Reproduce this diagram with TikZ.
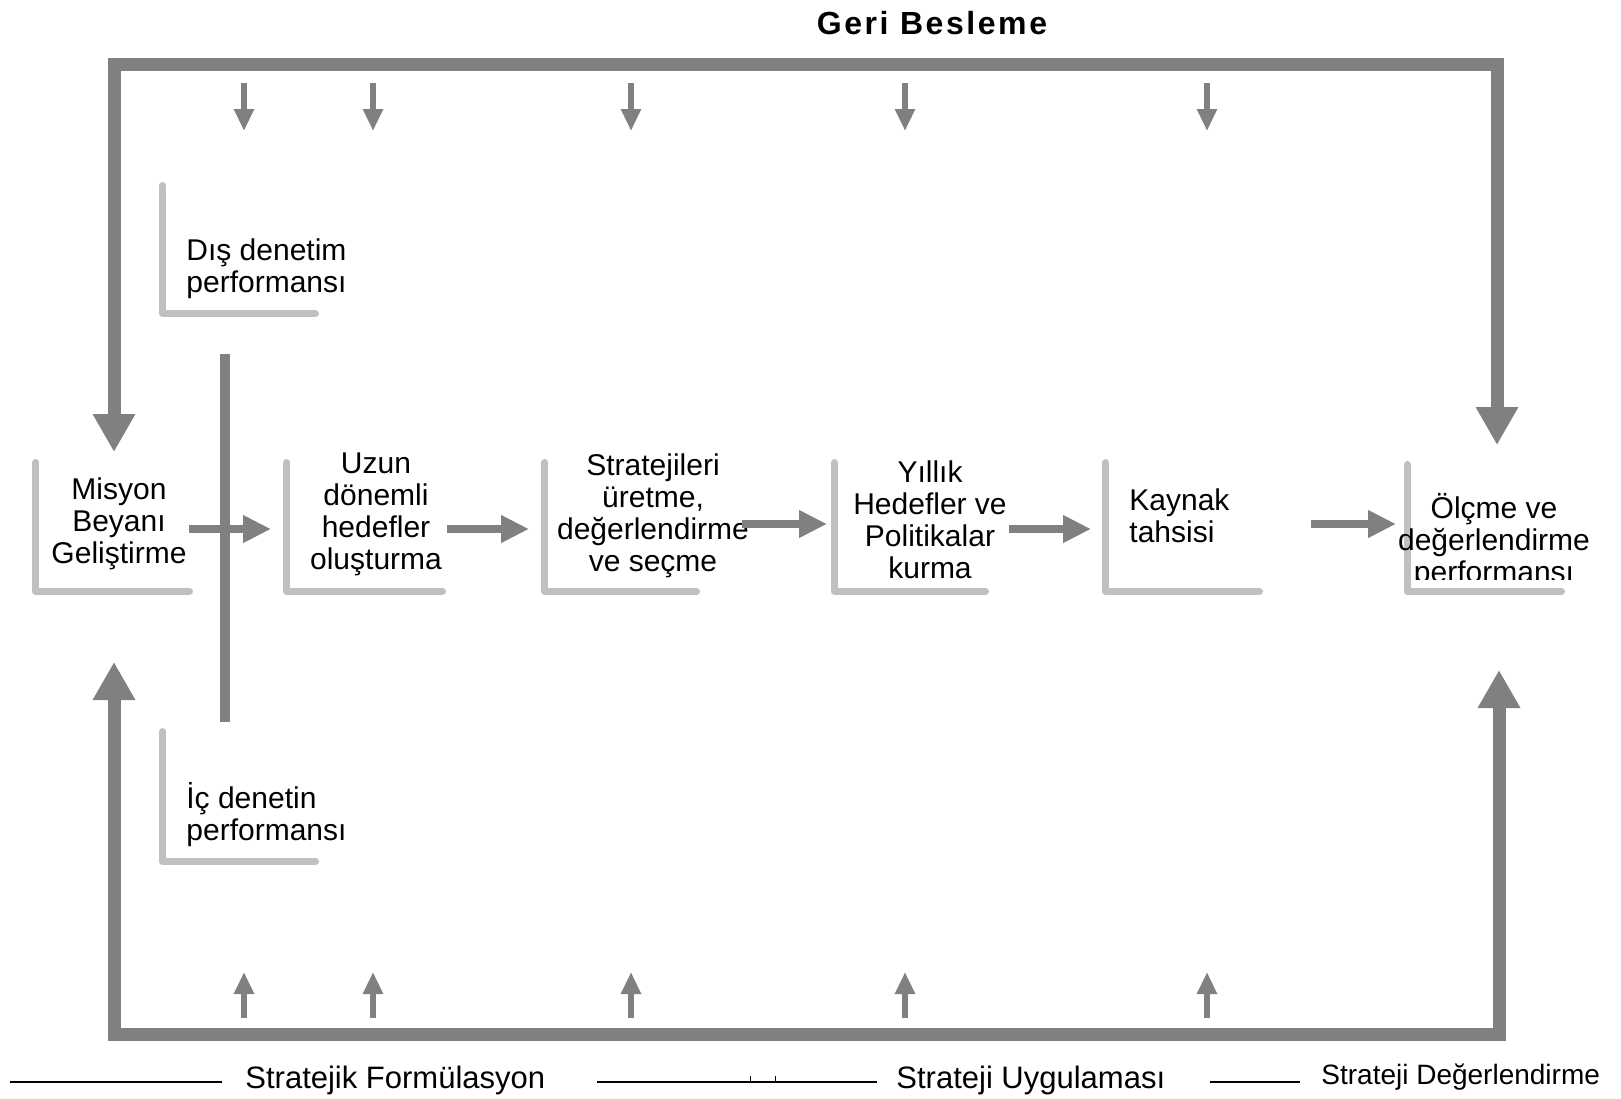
\documentclass[tikz,border=0pt]{standalone}
\usepackage{fontspec}
\setmainfont{Liberation Sans}
\usetikzlibrary{arrows.meta}
\definecolor{dk}{HTML}{808080}
\definecolor{lt}{HTML}{C0C0C0}
\tikzset{
  fb/.style={draw=dk, line width=6.5pt, line join=miter,
    {Triangle[length=19pt,width=20pt]}-{Triangle[length=19pt,width=20pt]}},
  small/.style={draw=dk, line width=3pt, -{Triangle[length=11pt,width=9.5pt]}},
  flow/.style={draw=dk, line width=4pt, -{Triangle[length=14pt,width=13pt]}},
  bracket/.style={draw=lt, line width=3.6pt, line cap=round, line join=round},
  boxn/.style={rectangle, inner sep=0pt, minimum width=#1},
  boxn/.default={76.5pt},
  txt/.style={inner sep=0pt, align=center, font=\fontsize{15}{16}\selectfont},
  txtl/.style={inner sep=0pt, align=left, anchor=west, font=\fontsize{15}{16}\selectfont},
  lbl/.style={inner sep=0pt, anchor=west, font=\fontsize{15.5}{17}\selectfont},
  rule/.style={draw=black, line width=1pt}
}
\begin{document}
\begin{tikzpicture}[x=0.5pt,y=-0.5pt]
\useasboundingbox[fill=white] (0,0) rectangle (1621,1098);

% title
\node[inner sep=0pt, font=\fontsize{16}{18}\selectfont\bfseries\addfontfeature{LetterSpace=8}] (title) at (932,23) {Geri Besleme};

% feedback loops
\coordinate (tl) at (114,64);
\coordinate (tr) at (1497,64);
\coordinate (ltip) at (114,452);
\coordinate (rtip) at (1497,445);
\draw[fb] (ltip) -- (tl) -- (tr) -- (rtip);

\coordinate (bl) at (114,1034);
\coordinate (br) at (1499,1034);
\coordinate (lutip) at (114,662);
\coordinate (rutip) at (1499,670);
\draw[fb] (lutip) -- (bl) -- (br) -- (rutip);

% small arrows
\foreach \i/\x in {1/244,2/373,3/631,4/905,5/1207}{
  \coordinate (ts\i) at (\x,83);
  \coordinate (te\i) at (\x,131);
  \draw[small] (ts\i) -- (te\i);
  \coordinate (bs\i) at (\x,1018);
  \coordinate (be\i) at (\x,972);
  \draw[small] (bs\i) -- (be\i);
}

% boxes
\node[boxn, minimum height=64pt] (mis) at (112.5,527) {};
\node[boxn=77.5pt, minimum height=64pt] (uzun) at (364.5,527) {};
\node[boxn=75.5pt, minimum height=64pt] (strat) at (620.5,527) {};
\node[boxn=75pt, minimum height=64pt] (yil) at (910,527) {};
\node[boxn, minimum height=64pt] (kay) at (1182.5,527) {};
\node[boxn, minimum height=63pt] (olc) at (1484.5,528) {};
\node[boxn=76pt, minimum height=63.5pt] (dis) at (239,249.5) {};
\node[boxn=76pt, minimum height=64.5pt] (ic) at (239,796.5) {};
\foreach \b in {mis,uzun,strat,yil,kay,olc,dis,ic}{
  \draw[bracket] (\b.north west) |- (\b.south east);
}

% texts
\node[txt] (tmis) at (119,524) {Misyon\\Beyanı\\Geliştirme};
\node[txt] (tuzun) at (376,514) {Uzun\\dönemli\\hedefler\\oluşturma};
\node[txt] (tstrat) at (653,516) {Stratejileri\\üretme,\\değerlendirme\\ve seçme};
\node[txt] (tyil) at (930,520) {Yıllık\\Hedefler ve\\Politikalar\\kurma};
\node[txtl] (tkay) at (1129,516) {Kaynak\\tahsisi};
\begin{scope}
\clip (1380,440) rectangle (1600,579);
\node[txt] (tolc) at (1494,541) {Ölçme ve\\değerlendirme\\performansı};
\end{scope}
\node[txtl] (tdis) at (186,269) {Dış denetim\\performansı};
\node[txtl] (tic) at (186,815) {İç denetin\\performansı};

% vertical divider
\coordinate (vd1) at (225,354);
\coordinate (vd2) at (225,722);
\draw[draw=dk, line width=5pt] (vd1) -- (vd2);

% flow arrows
\coordinate (a1s) at (189,529); \coordinate (a1e) at (271,529);
\coordinate (a2s) at (447,529); \coordinate (a2e) at (529,529);
\coordinate (a3s) at (742,524); \coordinate (a3e) at (827,524);
\coordinate (a4s) at (1009,529); \coordinate (a4e) at (1091,529);
\coordinate (a5s) at (1311,524); \coordinate (a5e) at (1396,524);
\foreach \i in {1,...,5}{ \draw[flow] (a\i s) -- (a\i e); }

% bottom legend
\coordinate (r1a) at (10,1082); \coordinate (r1b) at (222,1082);
\coordinate (r2a) at (597,1082); \coordinate (r2b) at (877,1082);
\coordinate (r3a) at (1210,1082); \coordinate (r3b) at (1300,1082);
\draw[rule] (r1a) -- (r1b);
\draw[rule] (r2a) -- (r2b);
\draw[rule] (r3a) -- (r3b);
\coordinate (k1) at (750,1076); \coordinate (k2) at (775,1076);
\draw[black, line width=0.5pt] (k1) -- (k1 |- r2a);
\draw[black, line width=0.5pt] (k2) -- (k2 |- r2a);
\node[lbl] (l1) at (245,1080) {Stratejik Formülasyon};
\node[lbl] (l2) at (896,1080) {Strateji Uygulaması};
\node[lbl, font=\fontsize{14}{16}\selectfont] (l3) at (1321,1077) {Strateji Değerlendirme};
\end{tikzpicture}
\end{document}
